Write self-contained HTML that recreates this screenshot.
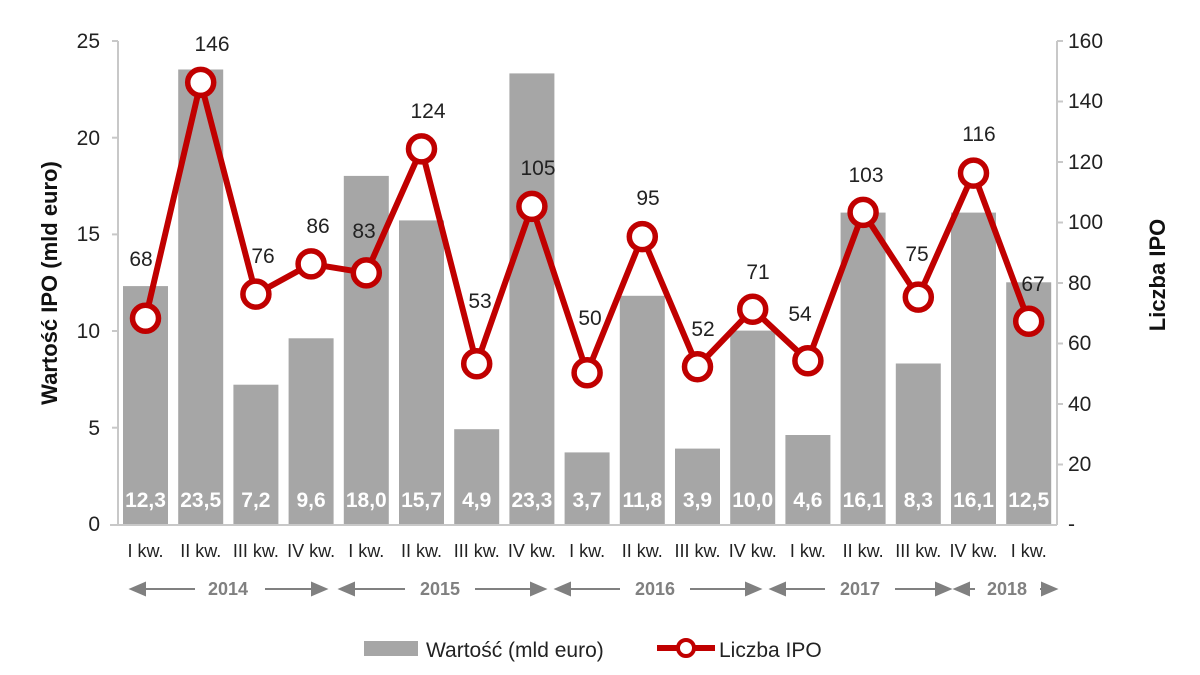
<!DOCTYPE html>
<html><head><meta charset="utf-8"><style>
body{margin:0;background:#fff;}
svg{display:block;font-family:"Liberation Sans",sans-serif;}
</style></head><body>
<svg width="1200" height="675" viewBox="0 0 1200 675">
<g stroke="#c8c8c8" stroke-width="2" fill="none">
<line x1="118" y1="41" x2="118" y2="525"/>
<line x1="1057" y1="41" x2="1057" y2="525"/>
<line x1="110" y1="525" x2="1057" y2="525"/>
<line x1="112" y1="41" x2="118" y2="41"/><line x1="112" y1="137.7" x2="118" y2="137.7"/><line x1="112" y1="234.4" x2="118" y2="234.4"/><line x1="112" y1="331" x2="118" y2="331"/><line x1="112" y1="427.7" x2="118" y2="427.7"/>
<line x1="1057" y1="41" x2="1063" y2="41"/><line x1="1057" y1="101.5" x2="1063" y2="101.5"/><line x1="1057" y1="162" x2="1063" y2="162"/><line x1="1057" y1="222.5" x2="1063" y2="222.5"/><line x1="1057" y1="283" x2="1063" y2="283"/><line x1="1057" y1="343.5" x2="1063" y2="343.5"/><line x1="1057" y1="404" x2="1063" y2="404"/><line x1="1057" y1="464.5" x2="1063" y2="464.5"/>
</g>
<g font-size="21" fill="#222" text-anchor="end">
<text x="100" y="48">25</text><text x="100" y="145">20</text><text x="100" y="241">15</text><text x="100" y="338">10</text><text x="100" y="435">5</text><text x="100" y="531">0</text>
</g>
<g font-size="21" fill="#222" text-anchor="start">
<text x="1068" y="48">160</text><text x="1068" y="108">140</text><text x="1068" y="169">120</text><text x="1068" y="229">100</text><text x="1068" y="290">80</text><text x="1068" y="350">60</text><text x="1068" y="411">40</text><text x="1068" y="471">20</text><text x="1068" y="531">-</text>
</g>
<text transform="translate(57,283) rotate(-90)" text-anchor="middle" font-size="22" font-weight="bold" fill="#111">Wartość IPO (mld euro)</text>
<text transform="translate(1165,275) rotate(-90)" text-anchor="middle" font-size="22" font-weight="bold" fill="#111">Liczba IPO</text>
<g fill="#a6a6a6">
<rect x="123" y="286.1" width="45" height="237.9"/>
<rect x="178.2" y="69.5" width="45" height="454.5"/>
<rect x="233.4" y="384.7" width="45" height="139.3"/>
<rect x="288.6" y="338.3" width="45" height="185.7"/>
<rect x="343.8" y="175.9" width="45" height="348.1"/>
<rect x="399" y="220.4" width="45" height="303.6"/>
<rect x="454.2" y="429.2" width="45" height="94.8"/>
<rect x="509.4" y="73.4" width="45" height="450.6"/>
<rect x="564.6" y="452.4" width="45" height="71.6"/>
<rect x="619.8" y="295.8" width="45" height="228.2"/>
<rect x="675" y="448.6" width="45" height="75.4"/>
<rect x="730.2" y="330.6" width="45" height="193.4"/>
<rect x="785.4" y="435" width="45" height="89"/>
<rect x="840.6" y="212.6" width="45" height="311.4"/>
<rect x="895.8" y="363.5" width="45" height="160.5"/>
<rect x="951" y="212.6" width="45" height="311.4"/>
<rect x="1006.2" y="282.3" width="45" height="241.7"/>
</g>
<g font-size="21" font-weight="bold" fill="#fff" text-anchor="middle">
<text x="145.5" y="507">12,3</text><text x="200.7" y="507">23,5</text><text x="255.9" y="507">7,2</text><text x="311.1" y="507">9,6</text><text x="366.3" y="507">18,0</text><text x="421.5" y="507">15,7</text><text x="476.7" y="507">4,9</text><text x="531.9" y="507">23,3</text><text x="587.1" y="507">3,7</text><text x="642.3" y="507">11,8</text><text x="697.5" y="507">3,9</text><text x="752.7" y="507">10,0</text><text x="807.9" y="507">4,6</text><text x="863.1" y="507">16,1</text><text x="918.3" y="507">8,3</text><text x="973.5" y="507">16,1</text><text x="1028.7" y="507">12,5</text>
</g>
<polyline fill="none" stroke="#c00000" stroke-width="6" stroke-linejoin="round" points="145.5,318.3 200.7,82.4 255.9,294.1 311.1,263.9 366.3,272.9 421.5,148.9 476.7,363.7 531.9,206.4 587.1,372.8 642.3,236.6 697.5,366.7 752.7,309.2 807.9,360.7 863.1,212.4 918.3,297.1 973.5,173.1 1028.7,321.3"/>
<g fill="#fff" stroke="#c00000" stroke-width="5.5">
<circle cx="145.5" cy="318.3" r="13"/><circle cx="200.7" cy="82.4" r="13"/><circle cx="255.9" cy="294.1" r="13"/><circle cx="311.1" cy="263.9" r="13"/><circle cx="366.3" cy="272.9" r="13"/><circle cx="421.5" cy="148.9" r="13"/><circle cx="476.7" cy="363.7" r="13"/><circle cx="531.9" cy="206.4" r="13"/><circle cx="587.1" cy="372.8" r="13"/><circle cx="642.3" cy="236.6" r="13"/><circle cx="697.5" cy="366.7" r="13"/><circle cx="752.7" cy="309.2" r="13"/><circle cx="807.9" cy="360.7" r="13"/><circle cx="863.1" cy="212.4" r="13"/><circle cx="918.3" cy="297.1" r="13"/><circle cx="973.5" cy="173.1" r="13"/><circle cx="1028.7" cy="321.3" r="13"/>
</g>
<g font-size="21" fill="#222" text-anchor="middle">
<text x="141" y="266">68</text><text x="212" y="51">146</text><text x="263" y="263">76</text><text x="318" y="233">86</text><text x="364" y="238">83</text><text x="428" y="118">124</text><text x="480" y="308">53</text><text x="538" y="175">105</text><text x="590" y="325">50</text><text x="648" y="205">95</text><text x="703" y="336">52</text><text x="758" y="279">71</text><text x="800" y="321">54</text><text x="866" y="182">103</text><text x="917" y="261">75</text><text x="979" y="141">116</text><text x="1033" y="291">67</text>
</g>
<g font-size="18" fill="#222" text-anchor="middle">
<text x="145.5" y="557">I kw.</text><text x="200.7" y="557">II kw.</text><text x="255.9" y="557">III kw.</text><text x="311.1" y="557">IV kw.</text><text x="366.3" y="557">I kw.</text><text x="421.5" y="557">II kw.</text><text x="476.7" y="557">III kw.</text><text x="531.9" y="557">IV kw.</text><text x="587.1" y="557">I kw.</text><text x="642.3" y="557">II kw.</text><text x="697.5" y="557">III kw.</text><text x="752.7" y="557">IV kw.</text><text x="807.9" y="557">I kw.</text><text x="863.1" y="557">II kw.</text><text x="918.3" y="557">III kw.</text><text x="973.5" y="557">IV kw.</text><text x="1028.7" y="557">I kw.</text>
</g>
<g stroke="#808080" stroke-width="2" fill="#808080">
<line x1="140" y1="589" x2="195" y2="589"/><line x1="265" y1="589" x2="315" y2="589"/>
<polygon points="131,589 145,583 145,595"/><polygon points="326,589 312,583 312,595"/>
<line x1="350" y1="589" x2="405" y2="589"/><line x1="475" y1="589" x2="535" y2="589"/>
<polygon points="340,589 354,583 354,595"/><polygon points="545,589 531,583 531,595"/>
<line x1="565" y1="589" x2="620" y2="589"/><line x1="690" y1="589" x2="750" y2="589"/>
<polygon points="556,589 570,583 570,595"/><polygon points="760,589 746,583 746,595"/>
<line x1="780" y1="589" x2="825" y2="589"/><line x1="895" y1="589" x2="940" y2="589"/>
<polygon points="771,589 785,583 785,595"/><polygon points="950,589 936,583 936,595"/>
<line x1="965" y1="589" x2="975" y2="589"/><line x1="1040" y1="589" x2="1045" y2="589"/>
<polygon points="955,589 969,583 969,595"/><polygon points="1056,589 1042,583 1042,595"/>
</g>
<g font-size="18" font-weight="bold" fill="#808080" text-anchor="middle">
<text x="228" y="595">2014</text><text x="440" y="595">2015</text><text x="655" y="595">2016</text><text x="860" y="595">2017</text><text x="1007" y="595">2018</text>
</g>
<rect x="364" y="641" width="54" height="15" fill="#a6a6a6"/>
<text x="426" y="657" font-size="21" fill="#222">Wartość (mld euro)</text>
<line x1="657" y1="648" x2="715" y2="648" stroke="#c00000" stroke-width="6"/>
<circle cx="686" cy="648" r="8" fill="#fff" stroke="#c00000" stroke-width="4"/>
<text x="719" y="657" font-size="21" fill="#222">Liczba IPO</text>
</svg>
</body></html>
